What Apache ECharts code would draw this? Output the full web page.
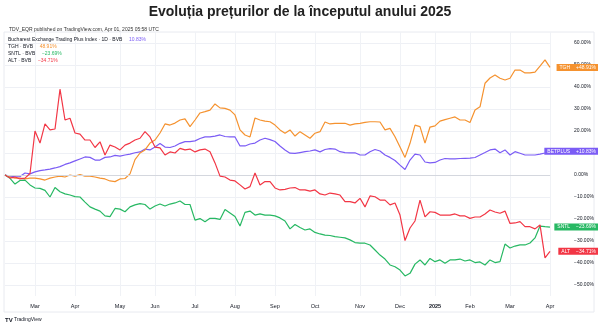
<!DOCTYPE html>
<html><head><meta charset="utf-8">
<script src="https://cdn.jsdelivr.net/npm/echarts/dist/echarts.min.js"></script>
<style>html,body{margin:0;padding:0;background:#fff}#c{width:600px;height:327px}</style>
</head><body><div id="c"></div>
<script>
const categories = [
'2024-02-06','2024-02-09','2024-02-13','2024-02-16','2024-02-21','2024-02-26',
'2024-03-01','2024-03-05','2024-03-08','2024-03-12','2024-03-15','2024-03-19','2024-03-22','2024-03-27',
'2024-04-01','2024-04-04','2024-04-08','2024-04-11','2024-04-15','2024-04-18','2024-04-22','2024-04-25','2024-04-29',
'2024-05-02','2024-05-07','2024-05-10','2024-05-15','2024-05-20','2024-05-23','2024-05-28',
'2024-06-03','2024-06-06','2024-06-10','2024-06-13','2024-06-17','2024-06-20','2024-06-24','2024-06-27',
'2024-07-01','2024-07-05','2024-07-09','2024-07-12','2024-07-16','2024-07-19','2024-07-24','2024-07-29',
'2024-08-01','2024-08-05','2024-08-08','2024-08-12','2024-08-16','2024-08-20','2024-08-23','2024-08-28',
'2024-09-02','2024-09-05','2024-09-09','2024-09-12','2024-09-16','2024-09-19','2024-09-23','2024-09-26',
'2024-10-01','2024-10-04','2024-10-08','2024-10-11','2024-10-15','2024-10-18','2024-10-22','2024-10-25','2024-10-29',
'2024-11-01','2024-11-05','2024-11-08','2024-11-12','2024-11-15','2024-11-19','2024-11-22','2024-11-26',
'2024-12-02','2024-12-05','2024-12-09','2024-12-12','2024-12-16','2024-12-19','2024-12-23',
'2025-01-03','2025-01-08','2025-01-13','2025-01-16','2025-01-20','2025-01-23','2025-01-28',
'2025-02-03','2025-02-06','2025-02-10','2025-02-13','2025-02-17','2025-02-20','2025-02-24','2025-02-27',
'2025-03-03','2025-03-06','2025-03-10','2025-03-13','2025-03-17','2025-03-20','2025-03-24','2025-03-27',
'2025-04-01'];
const monthNames = ['Jan','Feb','Mar','Apr','May','Jun','Jul','Aug','Sep','Oct','Nov','Dec'];
const yTickValues = [-50,-40,-30,-20,-10,0,10,20,30,40,50,60];

const betplus = [0,-0.5,-0.8,-0.7,0.9,0.5,1.4,2,2.3,2.7,
3.2,3.8,4.8,5.5,6.4,7.3,8.2,8,6.8,6.8,
8,8.2,8.9,8.6,9.1,9.5,10.1,10.5,11.8,11.4,
12.7,14.3,12.7,12.5,13.2,14.4,15.2,15.2,15.5,16.6,
17.3,17.3,17.7,18.2,17.5,17.3,17.3,13.2,13.2,14.1,
14.5,15.9,16.7,16.1,15.2,13.2,11.4,9.9,9.8,10.2,
10.6,10.9,11.4,10.5,11.6,12,11.8,10.6,10.2,10.1,
10.1,9.1,9.1,10.6,11.6,10.9,9.1,8,6.6,4.5,
2.5,6.8,9.5,9.1,5.9,5.5,5.7,6.8,7.5,7.3,
7.3,7.5,7.6,7.7,7.95,9.1,10.2,11.4,11.8,10.1,
11.4,9.1,10.6,9.9,9.1,9.1,9.1,9.5,10,10.83];

const tgh = [0,-0.9,-1.4,-1.4,-1.8,-1.4,-1.4,-1.8,-2.3,-1.4,
-0.9,-0.5,-0.9,0,-0.5,0.2,-0.5,-0.5,-0.9,-1.4,
-1.8,-2.7,-3.0,-1.8,-1.6,0.5,7,10,11.4,14.5,
15.9,19.1,23.2,22.7,23.6,25,25.5,22,25,28.2,
28.8,29.5,32.3,30.5,30.3,29.5,27.3,20.5,18.2,17.3,
25.9,25,24.5,24.2,22.7,20.5,19,20.5,17.7,19.7,
18.2,16.7,19,19.7,24.1,23.2,23.5,23.5,23.5,22.7,
23.2,23.5,23.9,24.2,24.2,24.1,20.5,21.2,17.4,12.7,
8,14.4,22.7,22,14.5,21.8,22.3,24.5,25.2,25.8,
26.4,25,25,23.9,29.5,31,41.7,44.1,45.5,44,
43.2,44,47.7,47.7,46.4,46.4,46.8,49.5,52.3,48.91];

const sntl = [0,-1.5,-4.1,-2.5,-2.3,-4.5,-5.9,-6.1,-7.0,-10,
-5.7,-7.6,-8.6,-9.1,-9.8,-10,-12.3,-14.5,-15.5,-16.4,
-18.6,-18.9,-15.2,-15.5,-16.7,-14.5,-13.6,-13,-13.4,-15.5,
-14.1,-13.2,-14.1,-13.2,-12.7,-11.8,-13.4,-13.4,-20.5,-19.8,
-21.2,-19.7,-19.7,-20.2,-15.7,-17.3,-18.9,-23.2,-17,-16.4,
-18.2,-17.7,-18.2,-18.2,-18.6,-19.5,-20.9,-24.5,-22.5,-23.9,
-25,-24.5,-26.1,-26.8,-27.3,-27.5,-28,-28.3,-28.6,-29.5,
-30.7,-31,-31,-31.8,-34.1,-36.4,-38.2,-40.9,-41.7,-43.2,
-45.9,-44.7,-40.5,-38.6,-40.9,-37.9,-39.4,-38.6,-40.1,-38.6,
-38.6,-38.2,-39.1,-38.6,-39.8,-39.5,-40.9,-38.6,-39.8,-39.4,
-31.4,-33.2,-32.3,-31.8,-31.8,-30.9,-28.6,-23.2,-23.5,-23.69];

const alt = [0,-1.4,-0.9,-1.8,-1.4,0.7,20,14.5,23.2,20.5,
20.9,39,25,25.8,19.1,18.6,15.9,15.9,12.5,15.1,
9.1,13.6,12.7,11.4,13.6,14.5,15.9,16.7,19.7,17.3,
12.7,12.3,9.1,10.5,10,12.1,11.4,11.8,10.5,11.4,
11.8,10.6,5.5,-0.5,-0.9,-2.3,-2.7,-4.5,-6.4,-5.3,
0.9,-4.5,-3.0,-3.0,-5.9,-6.8,-6.5,-5.9,-5.7,-6.8,
-6.8,-7.3,-6.8,-8.6,-9.1,-8.2,-8.6,-9.1,-12.1,-12.1,
-12.7,-10.6,-14.5,-9.5,-9.9,-11.4,-11.4,-13.6,-12.7,-18.2,
-29.8,-24.1,-20.9,-11.4,-19,-16.7,-17,-18.2,-18.2,-18.2,
-17.7,-18.6,-18.6,-19.7,-19.1,-19.1,-17.7,-15.9,-16.8,-17.4,
-16.4,-22,-21.8,-21.2,-23.5,-23.5,-24.5,-22.7,-37.7,-34.71];

const seriesNames = ['BETPLUS','TGH','SNTL','ALT'];
const seriesData = [betplus, tgh, sntl, alt];
const seriesColors = ['#7b5cf5','#f5922f','#27b863','#f23645'];
const badgeValues = ['+10.83%','+48.91%','\u221223.69%','\u221234.71%'];
const legendNames = ['Bucharest Exchange Trading Plus Index \u00b7 1D \u00b7 BVB','TGH \u00b7 BVB','SNTL \u00b7 BVB','ALT \u00b7 BVB'];
const legendValues = ['10.83%','48.91%','\u221223.69%','\u221234.71%'];

const FONT = '"Liberation Sans", Arial, sans-serif';

function isMonthStart(idx) {
  return idx > 0 && categories[idx].slice(0,7) !== categories[idx-1].slice(0,7);
}

const chart = echarts.init(document.getElementById('c'), null, {renderer:'canvas'});

const series = seriesNames.map((name, i) => {
  const s = {
    name, type:'line', data: seriesData[i], showSymbol:false, symbol:'none',
    lineStyle:{width:1.2, color: seriesColors[i]}, itemStyle:{color: seriesColors[i]},
    z: 3 + i,
    animation:false,
    endLabel:{
      show:true, align:'right', distance:0, offset:[48,0],
      formatter: '{n|' + name + '}{v|' + badgeValues[i] + '}',
      backgroundColor: seriesColors[i], color:'#fff', padding:[1,1,1,1],
      fontSize:5, fontFamily: FONT,
      rich:{
        n:{color:'#fff', fontSize:5, fontFamily:FONT, padding:[0,3,0,2]},
        v:{color:'#fff', fontSize:5, fontFamily:FONT, padding:[0,1,0,3]}
      }
    }
  };
  if (i === 0) {
    s.markLine = {
      silent:true, symbol:'none', animation:false, label:{show:false},
      lineStyle:{color:'#d4d7de', width:1, type:'solid'},
      data:[{yAxis:0}]
    };
  }
  return s;
});

const graphic = [
  {type:'rect', shape:{x:4,y:32,width:590,height:280}, style:{fill:'none', stroke:'#e8eaf0', lineWidth:1}, silent:true, z:0},
  {type:'text', left:5, top:317, style:{text:'{l|TV} TradingView', fill:'#131722', font:'5px '+FONT,
     rich:{l:{fontWeight:'bold', fontSize:6, fontFamily:FONT, fill:'#131722'}}}}
];
legendNames.forEach((n, i) => {
  graphic.push({type:'text', left:8, top:34 + i*7, z:10, style:{
    text: '{a|' + n + '}  {b|' + legendValues[i] + '}',
    rich:{a:{fill:'#131722', fontSize:5, fontFamily:FONT}, b:{fill:seriesColors[i], fontSize:5, fontFamily:FONT}}
  }});
});

chart.setOption({
  animation:false,
  backgroundColor:'#ffffff',
  title:[
    {text:'Evolu\u021bia pre\u021burilor de la \u00eenceputul anului 2025', left:'center', top:0,
     textStyle:{fontSize:14, fontWeight:'bold', fontFamily:FONT, color:'#222'}},
    {text:'TDV_EQR published on TradingView.com, Apr 01, 2025 05:58 UTC', left:4, top:22,
     textStyle:{fontSize:5, fontWeight:'normal', fontFamily:FONT, color:'#333'}}
  ],
  grid:{left:5, right:50, top:32, bottom:31, outerBoundsMode:'none', containLabel:false},
  xAxis:{
    type:'category', data:categories, boundaryGap:false,
    axisLine:{show:true, lineStyle:{color:'#e8eaf0'}},
    axisTick:{show:false},
    splitLine:{show:true, interval:(idx)=>isMonthStart(idx), lineStyle:{color:'#f0f2f6', width:1}},
    axisLabel:{
      interval:(idx)=>isMonthStart(idx), margin:7, fontSize:5.5, fontFamily:FONT, color:'#131722',
      formatter:(v)=>{ const m = +v.slice(5,7); return m === 1 ? '{y|' + v.slice(0,4) + '}' : monthNames[m-1]; },
      rich:{y:{fontWeight:'bold', fontSize:5.5, fontFamily:FONT, color:'#131722'}}
    }
  },
  yAxis:{
    type:'value', position:'right', min:-55, max:65, interval:5,
    axisLine:{show:false}, axisTick:{show:false},
    splitLine:{show:true, lineStyle:{color:['rgba(0,0,0,0)','#eef0f5'], width:1}},
    axisLabel:{
      margin:24, align:'left', fontSize:5, fontFamily:FONT, color:'#131722',
      formatter:(v)=> yTickValues.indexOf(v) >= 0 ? (v < 0 ? '\u2212' + Math.abs(v).toFixed(2) : v.toFixed(2)) + '%' : ''
    }
  },
  graphic,
  series
});
</script></body></html>
